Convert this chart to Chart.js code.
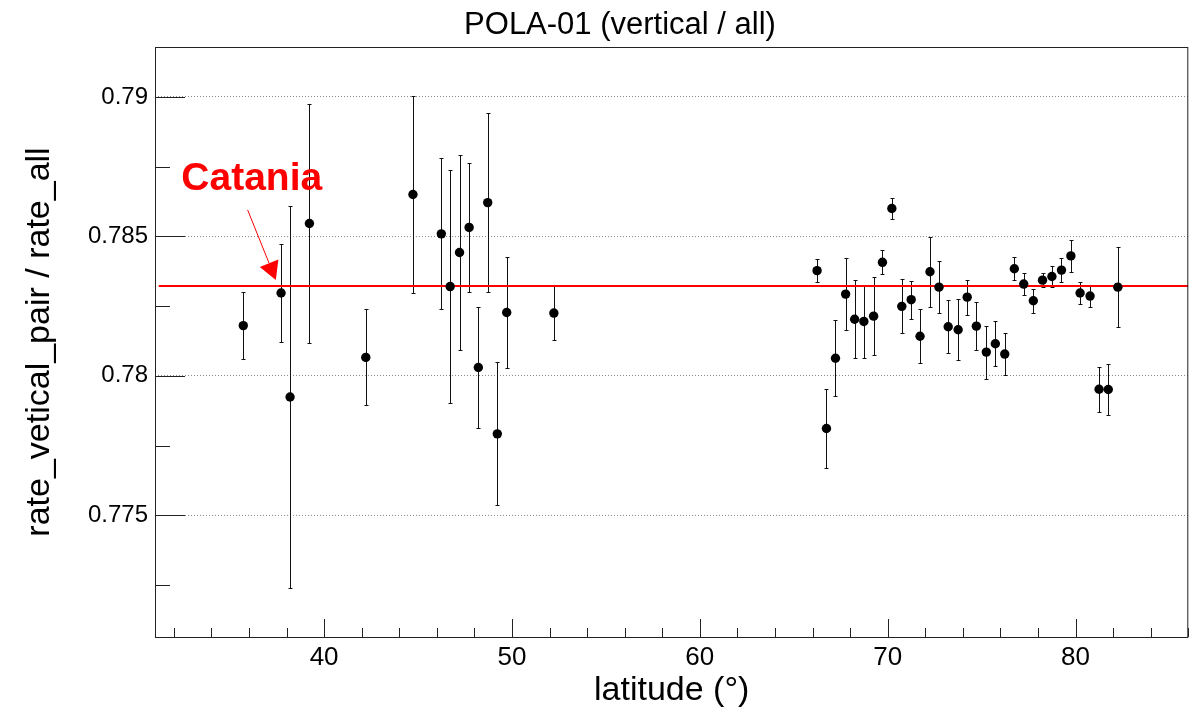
<!DOCTYPE html>
<html>
<head>
<meta charset="utf-8">
<script src="https://cdn.jsdelivr.net/npm/chart.js@4.4.1/dist/chart.umd.min.js"></script>
<style>
  html, body { margin: 0; padding: 0; background: #fff; }
</style>
</head>
<body>
<canvas id="myChart" width="1193" height="711"></canvas>
<script>
// POLA-01 detector, ratio of vertical pair rate to total rate, vs latitude
const latitude = [35.70, 37.71, 38.19, 39.22, 42.22, 44.73, 46.24, 46.71, 47.21, 47.72,
    48.21, 48.71, 49.22, 49.72, 52.23,
    66.24, 66.74, 67.22, 67.76, 68.24, 68.73, 69.25, 69.72, 70.22, 70.75,
    71.25, 71.72, 72.25, 72.73, 73.22, 73.75, 74.23, 74.72, 75.25, 75.73,
    76.23, 76.74, 77.24, 77.75, 78.24, 78.74, 79.25, 79.75, 80.24, 80.77,
    81.25, 81.74, 82.25];
const ratio = [0.78180, 0.78297, 0.77924, 0.78546, 0.78066, 0.78650, 0.78509, 0.78320, 0.78442, 0.78532,
    0.78030, 0.78621, 0.77792, 0.78227, 0.78225,
    0.78377, 0.77811, 0.78063, 0.78293, 0.78203, 0.78195, 0.78214, 0.78407, 0.78600, 0.78249,
    0.78273, 0.78142, 0.78373, 0.78318, 0.78176, 0.78165, 0.78282, 0.78178, 0.78085, 0.78115,
    0.78078, 0.78384, 0.78329, 0.78269, 0.78343, 0.78356, 0.78379, 0.78430, 0.78297, 0.78286,
    0.77952, 0.77951, 0.78318];
const ratioErr = [0.00121, 0.00177, 0.00685, 0.00429, 0.00172, 0.00352, 0.00271, 0.00418, 0.00350, 0.00230,
    0.00218, 0.00322, 0.00256, 0.00200, 0.00098,
    0.00042, 0.00142, 0.00136, 0.00128, 0.00140, 0.00130, 0.00140, 0.00043, 0.00036, 0.00097,
    0.00068, 0.00097, 0.00125, 0.00093, 0.00095, 0.00110, 0.00063, 0.00086, 0.00095, 0.00080,
    0.00075, 0.00041, 0.00038, 0.00043, 0.00024, 0.00038, 0.00044, 0.00056, 0.00040, 0.00040,
    0.00080, 0.00090, 0.00144];

const xTicks = [40, 50, 60, 70, 80];
const yTicks = [0.775, 0.78, 0.785, 0.79];
const yTickLabels = ['0.775', '0.78', '0.785', '0.79'];

// mean value (red line) and its extent
const meanRatio = 0.78322;
const meanFrom = 31.2;
const meanTo = 86;

// Catania label + arrow, in data coordinates
const catania = { text: 'Catania', lat: 32.40, val: 0.78667,
    fromLat: 35.93, fromVal: 0.78595, toLat: 37.43, toVal: 0.78344 };

const FONT = '"Liberation Sans", Arial, Helvetica, sans-serif';

const rootStyle = {
    id: 'rootStyle',
    beforeDatasetsDraw(chart) {
        const { ctx, scales: { x, y } } = chart;
        ctx.save();
        ctx.strokeStyle = '#111';
        ctx.lineWidth = 1;
        latitude.forEach((lat, i) => {
            const px = Math.round(x.getPixelForValue(lat)) + 0.5;
            const top = Math.round(y.getPixelForValue(ratio[i] + ratioErr[i])) + 0.5;
            const bot = Math.round(y.getPixelForValue(ratio[i] - ratioErr[i])) + 0.5;
            ctx.beginPath();
            ctx.moveTo(px, top); ctx.lineTo(px, bot);
            ctx.moveTo(px - 2, top); ctx.lineTo(px + 2, top);
            ctx.moveTo(px - 2, bot); ctx.lineTo(px + 2, bot);
            ctx.stroke();
        });
        ctx.restore();
    },
    afterDraw(chart) {
        const { ctx, chartArea: a, scales: { x, y } } = chart;
        ctx.save();

        // frame
        ctx.strokeStyle = '#222';
        ctx.lineWidth = 1;
        ctx.strokeRect(a.left + 0.5, a.top + 0.5, a.right - a.left - 1, a.bottom - a.top);

        // x ticks (inside, from the bottom axis)
        ctx.beginPath();
        for (let v = 32; v <= 86; v += 2) {
            const px = Math.round(x.getPixelForValue(v)) + 0.5;
            const len = v % 10 === 0 ? 18 : 9;
            ctx.moveTo(px, a.bottom);
            ctx.lineTo(px, a.bottom - len);
        }
        // y ticks (inside, from the left axis)
        for (let v = 0.7725; v < 0.7918; v += 0.0025) {
            const py = Math.round(y.getPixelForValue(v)) + 0.5;
            const major = Math.abs(v * 200 - Math.round(v * 200)) < 1e-6;
            ctx.moveTo(a.left, py);
            ctx.lineTo(a.left + (major ? 30 : 15), py);
        }
        ctx.stroke();

        // title
        ctx.fillStyle = '#000';
        ctx.font = '31px ' + FONT;
        ctx.textAlign = 'center';
        ctx.textBaseline = 'alphabetic';
        ctx.fillText('POLA-01 (vertical / all)', 620, 34);

        // Catania label
        ctx.fillStyle = '#ff0000';
        ctx.font = 'bold 39px ' + FONT;
        ctx.textAlign = 'left';
        ctx.fillText(catania.text, x.getPixelForValue(catania.lat), y.getPixelForValue(catania.val));

        // arrow
        const x0 = x.getPixelForValue(catania.fromLat), y0 = y.getPixelForValue(catania.fromVal);
        const x1 = x.getPixelForValue(catania.toLat), y1 = y.getPixelForValue(catania.toVal);
        const ang = Math.atan2(y1 - y0, x1 - x0);
        const headLen = 18, headHalf = 10;
        const bx = x1 - headLen * Math.cos(ang), by = y1 - headLen * Math.sin(ang);
        ctx.strokeStyle = '#ff0000';
        ctx.lineWidth = 1;
        ctx.beginPath();
        ctx.moveTo(x0, y0);
        ctx.lineTo(bx, by);
        ctx.stroke();
        ctx.beginPath();
        ctx.moveTo(x1, y1);
        ctx.lineTo(bx + headHalf * Math.sin(ang), by - headHalf * Math.cos(ang));
        ctx.lineTo(bx - headHalf * Math.sin(ang), by + headHalf * Math.cos(ang));
        ctx.closePath();
        ctx.fill();

        ctx.restore();
    }
};

const ctx = document.getElementById('myChart');

new Chart(ctx, {
    type: 'scatter',
    data: {
        datasets: [{
            label: 'ratio',
            data: latitude.map((lat, i) => ({ x: lat, y: ratio[i] })),
            backgroundColor: '#000',
            borderWidth: 0,
            pointRadius: 4.7,
            pointHoverRadius: 4.7,
            order: 1
        }, {
            type: 'line',
            label: 'mean',
            data: [{ x: meanFrom, y: meanRatio }, { x: meanTo, y: meanRatio }],
            borderColor: '#ff0000',
            borderWidth: 2,
            pointRadius: 0,
            fill: false,
            order: 2
        }]
    },
    options: {
        responsive: false,
        maintainAspectRatio: false,
        animation: false,
        devicePixelRatio: 1,
        layout: {
            padding: { top: 47, right: 3, left: 0, bottom: 0 }
        },
        plugins: {
            legend: { display: false },
            tooltip: { enabled: false },
            title: { display: false }
        },
        scales: {
            x: {
                type: 'linear',
                min: 31,
                max: 86,
                afterBuildTicks: s => { s.ticks = xTicks.map(v => ({ value: v })); },
                afterFit: s => { s.height = 74; },
                grid: { display: false, drawTicks: false },
                border: { display: false },
                ticks: {
                    color: '#000',
                    padding: 5,
                    maxRotation: 0,
                    font: { family: FONT, size: 26 }
                },
                title: {
                    display: true,
                    text: 'latitude (°)',
                    color: '#000',
                    padding: { top: 0, bottom: 0 },
                    font: { family: FONT, size: 34 }
                }
            },
            y: {
                type: 'linear',
                min: 0.770635,
                max: 0.79179,
                afterBuildTicks: s => { s.ticks = yTicks.map(v => ({ value: v })); },
                afterFit: s => { s.width = 155; },
                grid: { display: true, drawTicks: false, color: '#8a8a8a', lineWidth: 1 },
                border: { display: false, dash: [1, 2] },
                ticks: {
                    color: '#000',
                    padding: 7,
                    font: { family: FONT, size: 24 },
                    callback: (v) => yTickLabels[yTicks.indexOf(v)] ?? ''
                },
                title: {
                    display: true,
                    text: 'rate_vetical_pair / rate_all',
                    color: '#000',
                    padding: { top: 19, bottom: 0 },
                    font: { family: FONT, size: 34 }
                }
            }
        }
    },
    plugins: [rootStyle]
});
</script>
</body>
</html>
